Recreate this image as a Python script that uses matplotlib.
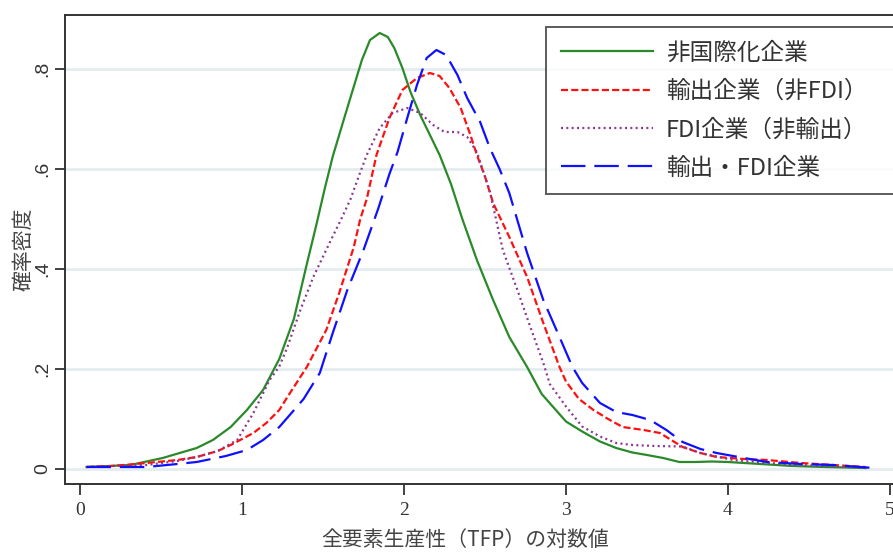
import matplotlib
matplotlib.use("Agg")
import matplotlib.pyplot as plt

plt.rcParams['font.family'] = ['Noto Sans CJK JP', 'DejaVu Sans']

labels = ['非国際化企業', '輸出企業（非FDI）', 'FDI企業（非輸出）', '輸出・FDI企業']

# 非国際化企業
x_dom = [0.04, 0.31, 0.51, 0.72, 0.82, 0.93, 1.03, 1.13, 1.23, 1.32, 1.40, 1.46, 1.51,
         1.56, 1.62, 1.69, 1.74, 1.79, 1.85, 1.90, 1.94, 1.99, 2.04, 2.10, 2.16, 2.22,
         2.29, 2.36, 2.45, 2.55, 2.65, 2.76, 2.85, 3.0, 3.1, 3.21, 3.31, 3.41, 3.5,
         3.6, 3.7, 3.8, 3.9, 4.0, 4.2, 4.4, 4.6, 4.85]
y_dom = [0.004, 0.008, 0.022, 0.042, 0.058, 0.084, 0.118, 0.158, 0.22, 0.30, 0.41, 0.49, 0.56,
         0.625, 0.69, 0.765, 0.818, 0.858, 0.872, 0.864, 0.842, 0.802, 0.754, 0.708, 0.668, 0.628,
         0.57, 0.50, 0.418, 0.338, 0.264, 0.204, 0.15, 0.095, 0.075, 0.055, 0.042, 0.033, 0.028,
         0.022, 0.014, 0.014, 0.015, 0.014, 0.01, 0.006, 0.004, 0.002]

# 輸出企業（非FDI）
x_exp = [0.04, 0.2, 0.41, 0.6, 0.72, 0.85, 0.93, 1.07, 1.15, 1.23, 1.28, 1.36, 1.40,
         1.52, 1.60, 1.69, 1.73, 1.77, 1.83, 1.91, 1.99, 2.08, 2.16, 2.22, 2.28, 2.35,
         2.41, 2.45, 2.50, 2.55, 2.65, 2.76, 2.86, 2.96, 3.0, 3.08, 3.17, 3.26, 3.35,
         3.48, 3.58, 3.65, 3.72, 3.83, 3.93, 4.1, 4.24, 4.45, 4.65, 4.85]
y_exp = [0.004, 0.006, 0.012, 0.018, 0.024, 0.036, 0.048, 0.072, 0.092, 0.118, 0.144, 0.184, 0.204,
         0.278, 0.352, 0.444, 0.50, 0.54, 0.628, 0.702, 0.758, 0.782, 0.792, 0.786, 0.762, 0.722,
         0.668, 0.628, 0.585, 0.532, 0.464, 0.384, 0.292, 0.204, 0.175, 0.14, 0.118, 0.10, 0.084,
         0.078, 0.072, 0.058, 0.044, 0.032, 0.024, 0.02, 0.018, 0.012, 0.008, 0.004]

# FDI企業（非輸出）
x_fdi = [0.04, 0.2, 0.41, 0.6, 0.72, 0.85, 0.97, 1.07, 1.17, 1.23, 1.28, 1.36, 1.44,
         1.54, 1.62, 1.67, 1.72, 1.77, 1.85, 1.93, 2.02, 2.10, 2.18, 2.25, 2.33, 2.39,
         2.45, 2.53, 2.61, 2.70, 2.78, 2.86, 2.9, 3.0, 3.1, 3.21, 3.31, 3.41, 3.55,
         3.72, 3.83, 4.03, 4.25, 4.45, 4.65, 4.85]
y_fdi = [0.004, 0.006, 0.008, 0.016, 0.024, 0.036, 0.058, 0.112, 0.178, 0.205, 0.244, 0.318, 0.384,
         0.452, 0.505, 0.54, 0.585, 0.628, 0.682, 0.712, 0.722, 0.712, 0.688, 0.674, 0.674, 0.664,
         0.634, 0.555, 0.438, 0.358, 0.284, 0.212, 0.17, 0.125, 0.085, 0.065, 0.052, 0.048, 0.046,
         0.045, 0.032, 0.018, 0.012, 0.008, 0.005, 0.003]

# 輸出・FDI企業
x_both = [0.04, 0.41, 0.6, 0.72, 0.9, 1.03, 1.13, 1.23, 1.30, 1.38, 1.48, 1.56, 1.65,
          1.75, 1.84, 1.91, 1.96, 2.02, 2.08, 2.14, 2.20, 2.26, 2.33, 2.39, 2.47, 2.53,
          2.59, 2.65, 2.76, 2.86, 2.96, 3.04, 3.1, 3.21, 3.31, 3.41, 3.52, 3.62, 3.72,
          3.83, 3.93, 4.1, 4.24, 4.45, 4.65, 4.9]
y_both = [0.004, 0.004, 0.01, 0.014, 0.026, 0.038, 0.058, 0.084, 0.11, 0.14, 0.192, 0.272, 0.358,
          0.438, 0.52, 0.59, 0.634, 0.702, 0.768, 0.822, 0.838, 0.828, 0.788, 0.742, 0.694, 0.642,
          0.60, 0.552, 0.432, 0.338, 0.264, 0.204, 0.172, 0.132, 0.114, 0.108, 0.098, 0.078, 0.054,
          0.04, 0.032, 0.022, 0.014, 0.01, 0.008, 0.002]

xticks = [0, 1, 2, 3, 4, 5]
yticks = [0, 0.2, 0.4, 0.6, 0.8]
ytick_labels = ['0', '.2', '.4', '.6', '.8']

fig = plt.figure(figsize=(8.93, 5.58), dpi=100)
ax = fig.add_axes([65 / 893, 74 / 558, 840 / 893, 469 / 558])

for yv in yticks:
    ax.axhline(yv, color='#e4ecf0', lw=2, zorder=0)

lw = 1.6
ax.plot(x_dom, y_dom, color='#2a8a2a', lw=lw, label=labels[0])
ax.plot(x_exp, y_exp, color='#ff1010', lw=lw, dashes=(3.2, 1.4), label=labels[1])
ax.plot(x_fdi, y_fdi, color='#8a3a90', lw=lw, dashes=(0.9, 1.5), label=labels[2])
ax.plot(x_both, y_both, color='#1010ff', lw=lw, dashes=(11, 4), label=labels[3])

ax.set_xlim(-0.093, 5.093)
ax.set_ylim(-0.03, 0.908)

ax.set_xticks(xticks)
ax.set_xticklabels([str(v) for v in xticks], family='Liberation Serif', fontsize=14, color='#333333')
ax.set_yticks(yticks)
ax.set_yticklabels(ytick_labels, family='Liberation Sans', fontsize=14, color='#333333',
                   rotation=90, va='center')
ax.tick_params(axis='x', length=8, width=1.3, pad=5, color='#333333')
ax.tick_params(axis='y', length=7, width=1.3, pad=3, color='#333333')

for side in ['left', 'bottom', 'top']:
    ax.spines[side].set_linewidth(1.4)
    ax.spines[side].set_color('#333333')
ax.spines['right'].set_visible(False)

ax.set_xlabel('全要素生産性（TFP）の対数値', fontsize=15, color='#444444')
ax.xaxis.set_label_coords(0.476, -0.095)
ax.set_ylabel('確率密度', fontsize=15, color='#444444')
ax.yaxis.set_label_coords(-0.036, 0.5)

leg = ax.legend(loc='upper left', bbox_to_anchor=(546 / 893, 0, (910 - 546) / 893, 1 - 27 / 558),
                bbox_transform=fig.transFigure, mode='expand', fontsize=17, frameon=True,
                fancybox=False, handlelength=3.9, handletextpad=0.55, labelspacing=0.65,
                borderpad=0.62, borderaxespad=0)
leg.get_frame().set_edgecolor('#333333')
leg.get_frame().set_linewidth(1.4)
for t in leg.get_texts():
    t.set_color('#333333')

fig.savefig('out.png', dpi=100)
